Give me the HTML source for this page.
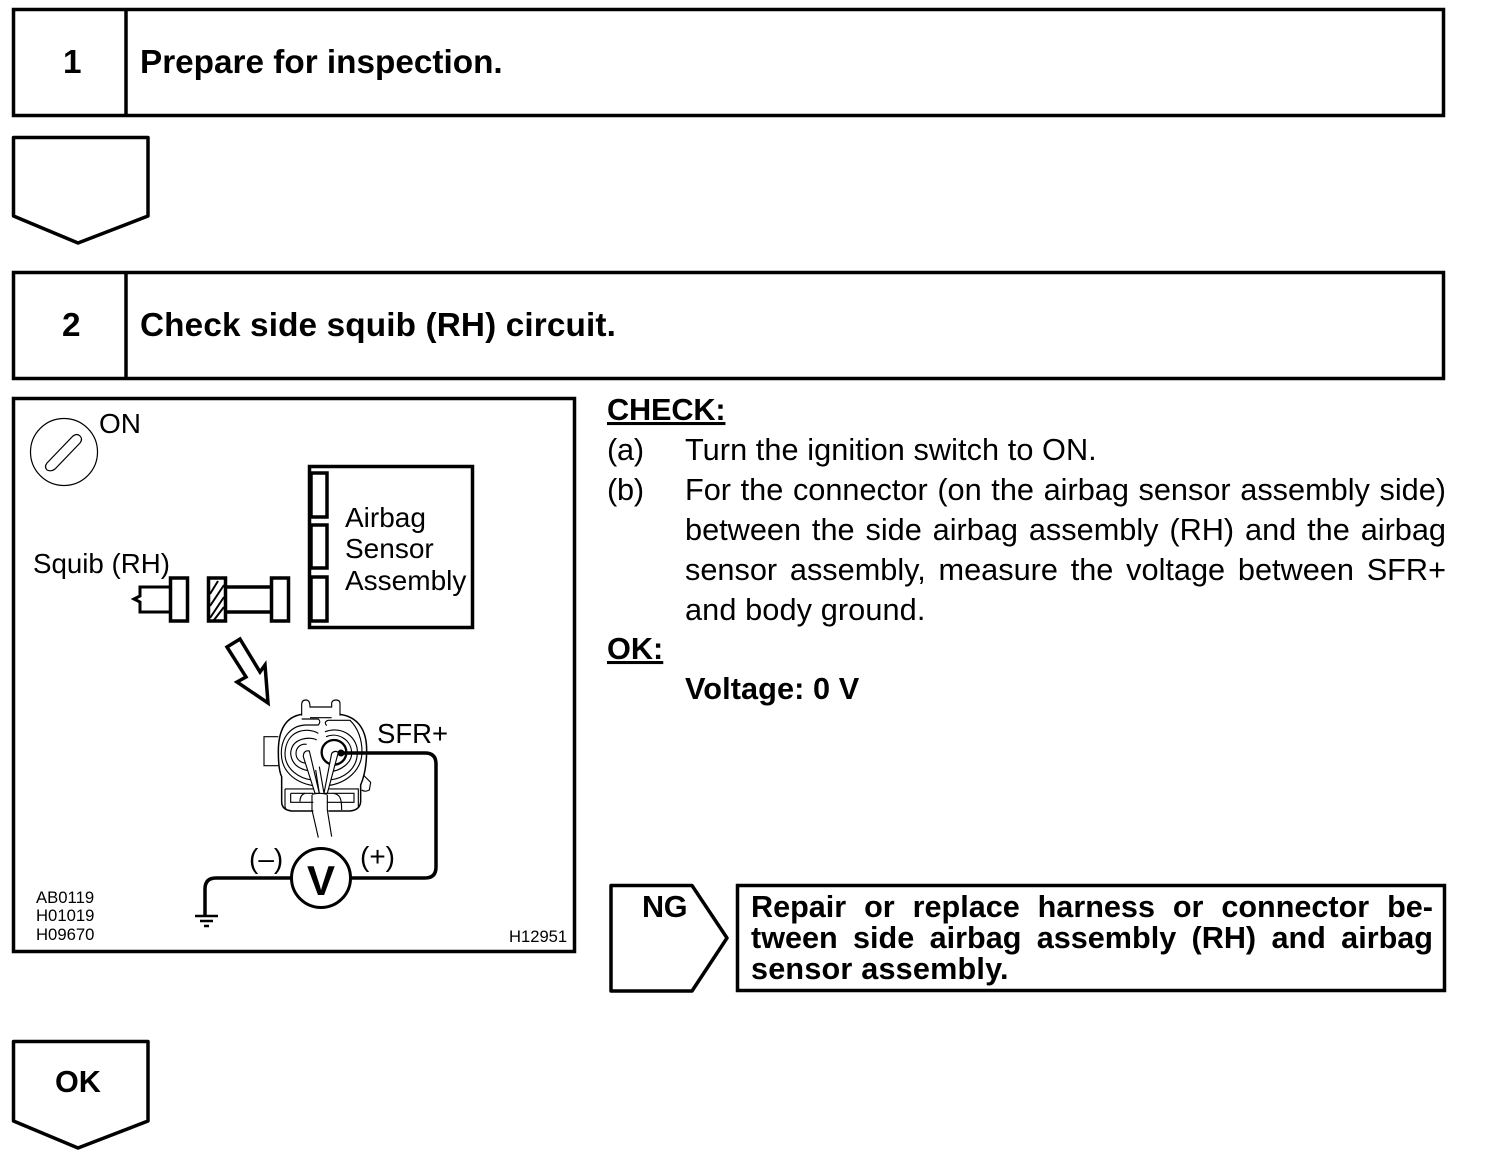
<!DOCTYPE html>
<html>
<head>
<meta charset="utf-8">
<style>
html,body{margin:0;padding:0;background:#fff}
#p{position:relative;width:1504px;height:1176px;overflow:hidden;background:#fff}
svg{position:absolute;left:0;top:0}
text{font-family:"Liberation Sans",sans-serif;fill:#000}
.b{font-weight:bold}
.j{position:absolute;font-family:"Liberation Sans",sans-serif;color:#000;text-align:justify;text-align-last:justify;white-space:normal}
</style>
</head>
<body>
<div id="p">
<svg width="1504" height="1176" viewBox="0 0 1504 1176">
<g fill="none" stroke="#000" stroke-width="3.5">
<rect x="13.5" y="9.5" width="1430" height="106"/>
<line x1="126" y1="9" x2="126" y2="116"/>
<rect x="13.5" y="272.5" width="1430" height="106"/>
<line x1="126" y1="272" x2="126" y2="379"/>
<path d="M13.5,137.5H148V216L78,243L13.5,216Z" stroke-linejoin="round"/>
<path d="M13.5,1041.5H148V1121L78,1148L13.5,1121Z" stroke-linejoin="round"/>
<rect x="13.5" y="398.5" width="561" height="553"/>
<path d="M611,885.5H692L727,938L692,991H611Z" stroke-linejoin="round"/>
<rect x="737.5" y="885.5" width="707" height="105"/>
<rect x="309.5" y="466.5" width="163" height="161"/>
<rect x="311" y="473" width="16" height="44"/>
<rect x="311" y="525" width="16" height="43"/>
<rect x="311" y="577" width="16" height="44"/>
<rect x="170.5" y="578" width="17" height="43"/>
<path d="M170,587H140V596L134,599L140,602V612H170" stroke-width="3"/>
<rect x="208.5" y="578" width="17" height="43"/>
<path d="M226,587H271M226,612H271"/>
<rect x="271.5" y="578" width="17" height="43"/>
<path d="M227,647L240,639L260,672L265,665L268,703L237,682L246,677Z" stroke-linejoin="miter"/>
<path d="M341,753H425Q436,753 436,764V867Q436,878 425,878H351"/>
<path d="M291,878H216Q205,878 205,889V916"/>
<circle cx="321" cy="878" r="29.5" stroke-width="3"/>
</g>
<g stroke="#000" stroke-width="2" fill="none">
<path d="M210,594L218,581M210,606L224,585M210,618L224,597M214,620L224,607"/>
<path d="M195,916H218" stroke-width="2.5"/>
<path d="M200,921H213" stroke-width="2.5"/>
<path d="M204,926H209" stroke-width="2.5"/>
</g>
<g fill="none" stroke="#000" stroke-width="1.2">
<circle cx="64" cy="452" r="33.5"/>
<path d="M47,463L73,436Q77,433 80,436Q83,439 80,443L55,469Q51,472 47,470Q44,467 47,463Z"/>
</g>
<g transform="translate(250,695) scale(0.3333)" fill="none" stroke="#000" stroke-width="3.4">
<path d="M155,62V28Q155,15 168,15Q180,15 180,36H245V26Q245,15 258,15Q270,15 270,26V62"/>
<path d="M180,68H245"/>
<path d="M85,125H42V212H85"/>
<path d="M155,58C110,65 85,100 85,170C85,215 90,235 95,245V320Q95,345 125,348H190" stroke-width="4.5"/>
<path d="M235,348H300Q330,345 332,320V270C345,240 350,200 350,165C350,100 320,65 270,58" stroke-width="4.5"/>
<path d="M155,72H205Q214,80 205,90H170C125,90 94,125 94,175C94,225 130,262 190,272"/>
<path d="M230,92Q220,80 235,76H300C325,100 336,135 336,170C336,225 290,265 232,272"/>
<path d="M205,115C170,95 108,105 105,175C105,225 150,250 185,255"/>
<path d="M200,135C185,125 125,125 122,175C125,215 160,225 180,228"/>
<path d="M170,148C150,145 138,160 138,175C138,195 155,205 172,205"/>
<path d="M225,110C280,90 325,130 322,175C320,225 280,250 240,255"/>
<path d="M228,125C265,110 305,135 305,175C305,205 270,228 240,230"/>
<path d="M105,282V335Q106,346 120,346M105,282H190M232,282H325V335"/>
<path d="M122,295H190M122,295V322H190M232,295H312V322H232"/>
<path d="M150,320C150,305 155,298 165,295M250,295C270,298 275,310 275,345"/>
<path d="M340,240L362,262L358,285Q345,292 335,285"/>
<path d="M197,225L208,295M208,215L222,295"/>
<path d="M186,300V345L205,428M232,300V345L245,425"/>
<path d="M186,298Q208,292 232,298"/>
</g>
<g transform="translate(250,695) scale(0.3333)" fill="none" stroke="#000">
<circle cx="252" cy="172" r="37" stroke-width="7"/>
<path d="M222,295L245,175Q254,165 265,172L232,295Z" stroke-width="3.4" fill="#fff"/>
<path d="M195,295L160,185Q160,165 178,168L208,295Z" stroke-width="3.4" fill="#fff"/>
</g>
<circle cx="341" cy="753" r="3.5" fill="#000"/>
<text x="63" y="73" class="b" font-size="33.3">1</text>
<text x="62" y="336" class="b" font-size="33.3">2</text>
<text x="140" y="73" class="b" font-size="33.3">Prepare for inspection.</text>
<text x="140" y="336" class="b" font-size="33.3" letter-spacing="0.14">Check side squib (RH) circuit.</text>
<text x="55" y="1092" class="b" font-size="30.6">OK</text>
<text x="642" y="917" class="b" font-size="30.6" letter-spacing="-0.4">NG</text>
<text x="607" y="420" class="b" font-size="30.7" letter-spacing="-0.15" text-decoration="underline">CHECK:</text>
<text x="607" y="460" font-size="30.7" letter-spacing="-0.2">(a)</text>
<text x="685" y="460" font-size="30.7" letter-spacing="0.06">Turn the ignition switch to ON.</text>
<text x="607" y="500" font-size="30.7" letter-spacing="-0.2">(b)</text>
<text x="685" y="620" font-size="30.7" letter-spacing="0.1">and body ground.</text>
<text x="607" y="659" class="b" font-size="30.7" text-decoration="underline">OK:</text>
<text x="685" y="699" class="b" font-size="30.7" letter-spacing="0.08">Voltage: 0 V</text>
<text x="751" y="979" class="b" font-size="30.6" letter-spacing="0.2">sensor assembly.</text>
<text x="99" y="433" font-size="28">ON</text>
<text x="345" y="527" font-size="28">Airbag</text>
<text x="345" y="558" font-size="28">Sensor</text>
<text x="345" y="590" font-size="28">Assembly</text>
<text x="33" y="573" font-size="27.7">Squib (RH)</text>
<text x="377" y="743" font-size="27.5">SFR+</text>
<text x="249" y="868" font-size="28">(–)</text>
<text x="360" y="866" font-size="28">(+)</text>
<text x="321" y="895" font-size="42" font-weight="bold" text-anchor="middle">V</text>
<text x="36" y="903" font-size="16.7">AB0119</text>
<text x="36" y="921" font-size="16.7">H01019</text>
<text x="36" y="940" font-size="16.7">H09670</text>
<text x="509" y="942" font-size="16.6">H12951</text>
</svg>
<div class="j" style="left:685px;top:470px;width:761px;font-size:30.7px;line-height:40px;height:40px">For the connector (on the airbag sensor assembly side)</div>
<div class="j" style="left:685px;top:510px;width:761px;font-size:30.7px;line-height:40px;height:40px">between the side airbag assembly (RH) and the airbag</div>
<div class="j" style="left:685px;top:550px;width:761px;font-size:30.7px;line-height:40px;height:40px">sensor assembly, measure the voltage between SFR+</div>
<div class="j" style="left:751px;top:889px;width:682px;font-size:30.6px;line-height:36px;height:36px;font-weight:bold">Repair or replace harness or connector be-</div>
<div class="j" style="left:751px;top:920px;width:682px;font-size:30.6px;line-height:36px;height:36px;font-weight:bold">tween side airbag assembly (RH) and airbag</div>
</div>
</body>
</html>
